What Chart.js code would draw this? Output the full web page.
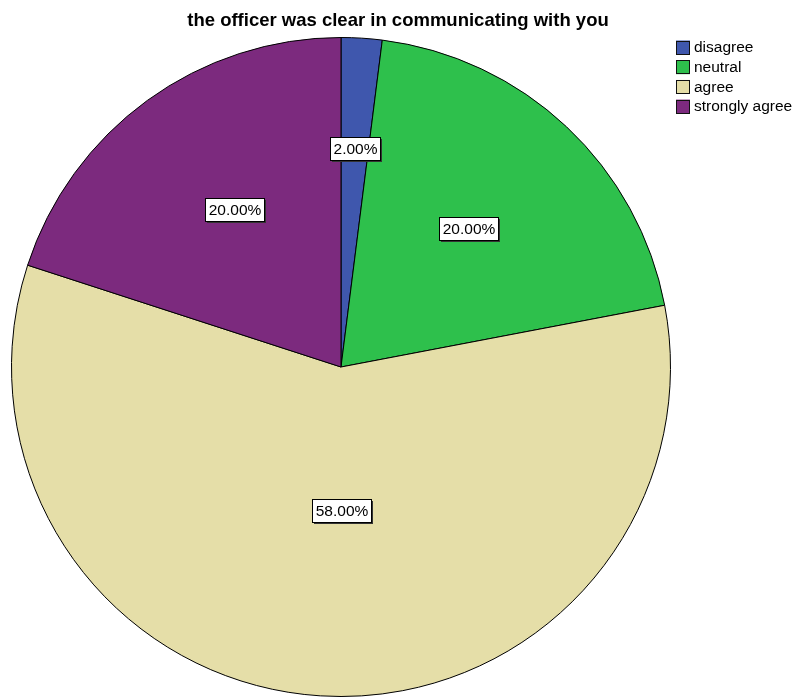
<!DOCTYPE html>
<html>
<head>
<meta charset="utf-8">
<script src="https://cdn.jsdelivr.net/npm/chart.js@4/dist/chart.umd.min.js"></script>
<style>
  html, body { margin: 0; padding: 0; background: #fff; }
  #wrap { width: 796px; height: 698px; position: relative; }
</style>
</head>
<body>
<div id="wrap"><canvas id="pie"></canvas></div>
<script>
// survey answers for a single question
const TITLE = 'the officer was clear in communicating with you';
const categories = ['disagree', 'neutral', 'agree', 'strongly agree'];
const percents = [2, 20, 58, 20];
const colors = ['#3f57ad', '#2ec04c', '#e5dea8', '#7c2a7e'];

// where each value box sits: share of the radius, and a small turn in degrees off the slice middle
const labelReach = [0.664, 0.57, 0.435, 0.577];
const labelTurn = [0, -0.5, -3.6, 2];

const FONT = '"Liberation Sans", Arial, sans-serif';

const titlePlugin = {
    id: 'spssTitle',
    afterDraw(chart) {
        const ctx = chart.ctx;
        ctx.save();
        ctx.font = 'bold 18.5px ' + FONT;
        ctx.fillStyle = '#000';
        ctx.textAlign = 'center';
        ctx.textBaseline = 'alphabetic';
        ctx.fillText(TITLE, 398, 26);
        ctx.restore();
    }
};

const legendPlugin = {
    id: 'spssLegend',
    afterDraw(chart) {
        const ctx = chart.ctx;
        ctx.save();
        ctx.font = '15.5px ' + FONT;
        ctx.textBaseline = 'middle';
        categories.forEach((name, i) => {
            const y = 47.5 + i * 19.7;
            ctx.fillStyle = colors[i];
            ctx.fillRect(676, y - 7, 14, 14);
            ctx.strokeStyle = '#111';
            ctx.lineWidth = 1;
            ctx.strokeRect(676.5, Math.round(y - 7) + 0.5, 13, 13);
            ctx.fillStyle = '#000';
            ctx.fillText(name, 694, y + 0.5);
        });
        ctx.restore();
    }
};

const valueBoxPlugin = {
    id: 'valueBoxes',
    afterDatasetsDraw(chart) {
        const ctx = chart.ctx;
        const meta = chart.getDatasetMeta(0);
        ctx.save();
        ctx.font = '15.5px ' + FONT;
        ctx.textAlign = 'center';
        ctx.textBaseline = 'middle';
        meta.data.forEach((arc, i) => {
            const p = arc.getProps(['x', 'y', 'startAngle', 'endAngle', 'outerRadius'], true);
            const mid = (p.startAngle + p.endAngle) / 2 + labelTurn[i] * Math.PI / 180;
            const r = p.outerRadius * labelReach[i];
            const cx = p.x + Math.cos(mid) * r;
            const cy = p.y + Math.sin(mid) * r;
            const text = percents[i].toFixed(2) + '%';
            const w = Math.ceil(ctx.measureText(text).width) + 6;
            const h = 23;
            const bx = Math.round(cx - w / 2) + 0.5;
            const by = Math.round(cy - h / 2) + 0.5;
            // dark edge on the lower right, like the SPSS label boxes
            ctx.fillStyle = '#333';
            ctx.fillRect(bx + 1.5, by + 1.5, w, h);
            ctx.fillStyle = '#fff';
            ctx.fillRect(bx, by, w, h);
            ctx.strokeStyle = '#000';
            ctx.lineWidth = 1;
            ctx.strokeRect(bx, by, w, h);
            ctx.fillStyle = '#000';
            ctx.fillText(text, bx + w / 2, by + h / 2 + 1);
        });
        ctx.restore();
    }
};

new Chart(document.getElementById('pie'), {
    type: 'pie',
    data: {
        labels: categories,
        datasets: [{
            data: percents,
            backgroundColor: colors,
            borderColor: '#000',
            borderWidth: 1,
            borderAlign: 'center'
        }]
    },
    options: {
        responsive: true,
        maintainAspectRatio: false,
        animation: false,
        layout: { padding: { left: 11, right: 125, top: 37, bottom: 1 } },
        plugins: {
            legend: { display: false },
            title: { display: false },
            tooltip: { enabled: false }
        }
    },
    plugins: [titlePlugin, legendPlugin, valueBoxPlugin]
});
</script>
</body>
</html>
